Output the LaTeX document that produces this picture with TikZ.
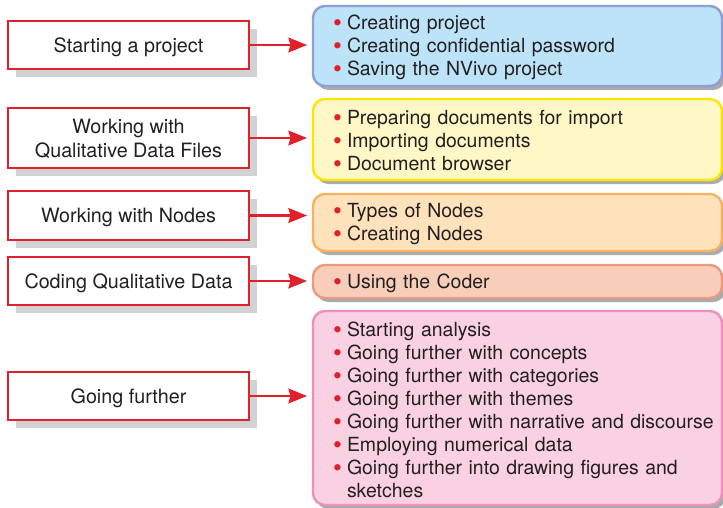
\documentclass[tikz,border=0pt]{standalone}
\usepackage{fontspec}
\setmainfont{TeX Gyre Heros}
\usetikzlibrary{arrows.meta,shadows}

\definecolor{inkgray}{HTML}{231F20}
\definecolor{mred}{HTML}{E0202A}
\definecolor{lshadow}{HTML}{D1D2D4}
\definecolor{rshadow}{HTML}{A9AAAD}
\definecolor{blueFill}{HTML}{BDE3F8}
\definecolor{blueLine}{HTML}{8E9FD6}
\definecolor{yellowFill}{HTML}{FFF7C6}
\definecolor{yellowLine}{HTML}{FFE400}
\definecolor{orangeFill}{HTML}{FEE2BC}
\definecolor{orangeLine}{HTML}{F8B15E}
\definecolor{salmonFill}{HTML}{F8CEBA}
\definecolor{salmonLine}{HTML}{EB9A7D}
\definecolor{pinkFill}{HTML}{F9D1E3}
\definecolor{pinkLine}{HTML}{EF8FBB}

\newcommand{\bul}{\leavevmode\rule{0pt}{13.5pt}\llap{\makebox[10.5pt][l]{\raisebox{-1.4pt}{\fontsize{19}{19}\selectfont\textcolor{mred}{\textbullet}}}}}

\begin{document}
\begin{tikzpicture}[
    x=0.75pt, y=-0.75pt,
    topic/.style={rectangle, draw=mred, line width=2pt, fill=white,
                  minimum width=180.75pt, align=center, text=inkgray,
                  text depth=0pt, font=\fontsize{14.8}{18}\selectfont,
                  drop shadow={shadow xshift=6pt, shadow yshift=-6pt,
                               fill=lshadow, opacity=1}},
    detail/.style={rectangle, rounded corners=9pt, line width=1.8pt,
                   text width=306.75pt, inner xsep=0pt, align=left, text=inkgray,
                   font=\fontsize{14.6}{17.25}\selectfont,
                   execute at begin node={\leftskip=25.5pt\relax},
                   execute at end node={\endgraf},
                   drop shadow={shadow xshift=2.5pt, shadow yshift=-3pt,
                                fill=rshadow, opacity=1}},
    arrow/.style={draw=mred, line width=2pt, shorten >=3.5pt,
                  -{Stealth[length=14pt, width=11pt, inset=1.5pt]}}
  ]
    \useasboundingbox (0,0) rectangle (723,507);

    % topics on the left
    \node[topic, minimum height=36pt] (start) at (128.5,45) {Starting a project};
    \node[topic, minimum height=45pt] (files) at (128.5,138) {Working with\\Qualitative Data Files};
    \node[topic, minimum height=36.75pt] (nodes) at (128.5,215.5) {Working with Nodes};
    \node[topic, minimum height=36pt] (coding) at (128.5,281) {Coding Qualitative Data};
    \node[topic, minimum height=36pt] (further) at (128.5,396) {Going further};

    % contents on the right
    \node[detail, fill=blueFill, draw=blueLine, minimum height=60pt] (startlist) at (517.5,46)
      {\bul Creating project\\\bul Creating confidential password\\\bul Saving the NVivo project};
    \node[detail, fill=yellowFill, draw=yellowLine, minimum height=60.75pt] (fileslist) at (517.5,139.5)
      {\bul Preparing documents for import\\\bul Importing documents\\\bul Document browser};
    \node[detail, fill=orangeFill, draw=orangeLine, minimum height=42.75pt] (nodeslist) at (517.5,222.5)
      {\bul Types of Nodes\\\bul Creating Nodes};
    \node[detail, fill=salmonFill, draw=salmonLine, minimum height=24.75pt] (codinglist) at (517.5,281.5)
      {\bul Using the Coder};
    \node[detail, fill=pinkFill, draw=pinkLine, minimum height=145.5pt] (furtherlist) at (517.5,408)
      {\bul Starting analysis\\\bul Going further with concepts\\\bul Going further with categories\\
       \bul Going further with themes\\\bul Going further with narrative and discourse\\
       \bul Employing numerical data\\\bul Going further into drawing figures and\\sketches};

    \foreach \a/\b in {start/startlist, files/fileslist, nodes/nodeslist, coding/codinglist, further/furtherlist}
      \draw[arrow] (\a.east) -- (\a.east -| \b.west);
\end{tikzpicture}
\end{document}
